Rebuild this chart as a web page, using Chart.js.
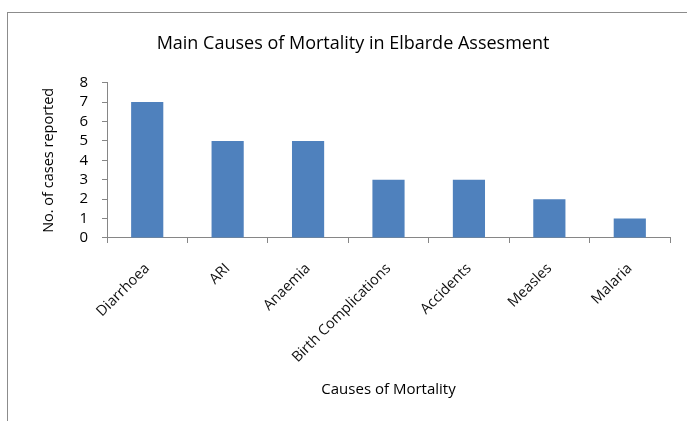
<!DOCTYPE html>
<html>
<head>
<meta charset="utf-8">
<script src="https://cdn.jsdelivr.net/npm/chart.js@4.4.1/dist/chart.umd.min.js"></script>
<style>
  html, body { margin: 0; padding: 0; background: #fff; }
  #wrap { width: 687px; height: 421px; position: relative; }
</style>
</head>
<body>
<div id="wrap"><canvas id="c" width="687" height="421"></canvas></div>
<script>
const categories = ["Diarrhoea", "ARI", "Anaemia", "Birth Complications", "Accidents", "Measles", "Malaria"];
const cases = [7, 5, 5, 3, 3, 2, 1];
const yTicks = [0, 1, 2, 3, 4, 5, 6, 7, 8];
const chartTitle = "Main Causes of Mortality in Elbarde Assesment";
const xTitle = "Causes of Mortality";
const yTitle = "No. of cases reported";

const FONT = "'Open Sans', Lato, sans-serif";

const framePlugin = {
  id: 'frame',
  beforeDraw(chart) {
    const ctx = chart.ctx;
    ctx.save();
    ctx.fillStyle = '#fff';
    ctx.fillRect(0, 0, chart.width, chart.height);
    ctx.strokeStyle = '#8c8c8c';
    ctx.lineWidth = 1;
    ctx.strokeRect(7.5, 12.5, 700, 430);
    ctx.restore();
  }
};

new Chart(document.getElementById('c'), {
  type: 'bar',
  data: {
    labels: categories,
    datasets: [{
      data: cases,
      backgroundColor: '#4f81bd',
      borderWidth: 0,
      barPercentage: 0.4,
      categoryPercentage: 1.0
    }]
  },
  options: {
    responsive: false,
    animation: false,
    devicePixelRatio: 1,
    layout: { padding: { left: 19, right: 0, top: 0, bottom: 0 } },
    plugins: {
      legend: { display: false },
      tooltip: { enabled: false },
      title: {
        display: true,
        text: chartTitle,
        color: '#000',
        font: { family: FONT, size: 18, weight: 'normal' },
        padding: { top: 33, bottom: 28 }
      }
    },
    scales: {
      x: {
        offset: true,
        grid: { display: true, drawOnChartArea: false, drawTicks: true, tickLength: 5, color: '#868686', offset: true },
        border: { display: true, color: '#868686' },
        ticks: {
          color: '#111',
          font: { family: FONT, size: 14.5 },
          minRotation: 45, maxRotation: 45,
          padding: 17,
          autoSkip: false
        },
        title: {
          display: true,
          text: xTitle,
          color: '#000',
          font: { family: FONT, size: 15 },
          padding: { top: 0, bottom: 22 }
        },
        afterFit(scale) { scale.height = 183; }
      },
      y: {
        min: 0, max: 8,
        afterBuildTicks(scale) { scale.ticks = yTicks.map(v => ({ value: v })); },
        grid: { display: true, drawOnChartArea: false, drawTicks: true, tickLength: 5, color: '#868686' },
        border: { display: true, color: '#868686' },
        ticks: {
          color: '#000',
          font: { family: FONT, size: 15 },
          padding: 14,
          autoSkip: false,
          stepSize: 1
        },
        title: {
          display: true,
          text: yTitle,
          color: '#000',
          font: { family: FONT, size: 14.5 },
          padding: { top: 21, bottom: 0 }
        },
        afterFit(scale) { scale.width = 88; }
      },
      yRight: {
        position: 'right',
        display: true,
        grid: { display: false, drawTicks: false },
        border: { display: false },
        ticks: { display: false },
        afterFit(scale) { scale.width = 17; }
      }
    }
  },
  plugins: [framePlugin]
});
</script>
</body>
</html>
